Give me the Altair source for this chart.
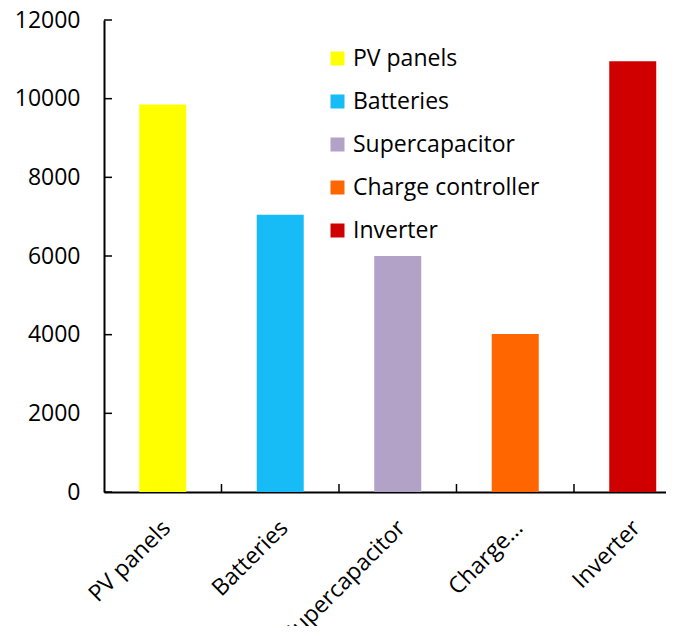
import altair as alt
import pandas as pd

categories = ["PV panels", "Batteries", "Supercapacitor", "Charge controller", "Inverter"]
values = [9850, 7050, 6000, 4020, 10950]
colors = ["#FFFF00", "#17BCF6", "#B3A2C7", "#FF6600", "#D00000"]
y_ticks = [0, 2000, 4000, 6000, 8000, 10000, 12000]

W, H = 562, 472
FONT = "Open Sans"

df = pd.DataFrame({"cat": categories, "val": values})
ytick_df = pd.DataFrame({"v": y_ticks})
xtick_df = pd.DataFrame({"cat": categories[1:]})

xscale = alt.Scale(domain=categories, paddingInner=0.6, paddingOuter=0.1915, align=0.783)

bars = alt.Chart(df).mark_bar().encode(
    x=alt.X("cat:N", sort=categories, scale=xscale,
            axis=alt.Axis(title=None, labelAngle=-45, labelAlign="right", labelBaseline="middle",
                          ticks=False, labelPadding=32, labelOffset=4, labelFontSize=23,
                          labelColor="#000", labelLimit=400,
                          labelExpr="datum.label == 'Charge controller' ? 'Charge…' : datum.label")),
    y=alt.Y("val:Q", scale=alt.Scale(domain=[0, 12000], nice=False),
            axis=alt.Axis(title=None, values=y_ticks, format="d", ticks=False, grid=False,
                          labelPadding=24, labelFontSize=23, labelColor="#000")),
    color=alt.Color("cat:N", sort=categories,
                    scale=alt.Scale(domain=categories, range=colors),
                    legend=alt.Legend(orient="none", legendX=222, legendY=27, title=None,
                                      symbolType="square", symbolSize=196, symbolStrokeWidth=0,
                                      symbolOpacity=1, labelFontSize=23, labelColor="#000",
                                      rowPadding=19, padding=0, labelOffset=4, labelLimit=400)),
)

yticks = alt.Chart(ytick_df).mark_rule(color="#000", strokeWidth=1.5).encode(
    y=alt.Y("v:Q"),
    x=alt.value(0),
    x2=alt.value(8),
)

xticks = alt.Chart(xtick_df).mark_rule(color="#000", strokeWidth=1.5).encode(
    x=alt.X("cat:N", bandPosition=0),
    xOffset=alt.value(-35.25),
    y=alt.value(H),
    y2=alt.value(H - 8),
)

chart = alt.layer(bars, yticks, xticks).properties(
    width=W, height=H,
    autosize=alt.AutoSizeParams(type="none"),
    padding={"left": 96, "top": 12, "right": 0, "bottom": 134},
).configure(font=FONT).configure_view(stroke=None).configure_axis(
    domainColor="#000", domainWidth=2, labelFont=FONT
).configure_legend(labelFont=FONT)

chart.save("out.html", embed_options={"renderer": "svg", "actions": False})
